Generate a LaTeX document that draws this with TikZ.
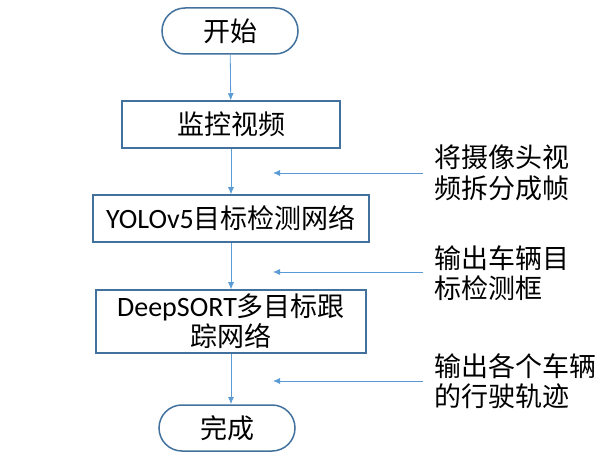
\documentclass[tikz,border=0pt]{standalone}
\usepackage{fontspec}
\setmainfont{Carlito}
\newfontfamily\cjk{Noto Sans CJK SC}
\usetikzlibrary{arrows.meta}
\definecolor{boxblue}{HTML}{41719C}
\definecolor{arrblue}{HTML}{5B9BD5}
\tikzset{
  term/.style={draw=boxblue, line width=1.5pt, rounded corners=23pt, minimum width=136pt, minimum height=46pt, inner sep=0pt, font=\fontsize{27}{30}\selectfont\cjk},
  proc/.style={draw=boxblue, line width=1.5pt, inner sep=0pt, align=center, font=\fontsize{27}{30}\selectfont},
  flow/.style={draw=arrblue, line width=0.8pt, -{Latex[length=7pt,width=6pt]}},
  note/.style={anchor=west, align=left, inner sep=0pt, font=\fontsize{27}{30.5}\selectfont\cjk},
}
\begin{document}
\begin{tikzpicture}[x=1pt,y=-1pt]
\useasboundingbox (0,0) rectangle (605,462);
\node[term] (start) at (230,31) {开始};
\node[proc, minimum width=218pt, minimum height=47pt] (video) at (231,124.5) {\cjk 监控视频};
\node[proc, minimum width=276pt, minimum height=47pt] (yolo) at (231,218.5) {{\fontsize{28}{30}\selectfont YOLOv5}{\cjk 目标检测网络}};
\node[proc, minimum width=270pt, minimum height=63pt] (deep) at (231,321.5) {{\fontsize{28}{30}\selectfont DeepSORT}{\cjk 多目标跟}\\{\cjk 踪网络}};
\node[term] (end) at (227,428) {完成};

\draw[flow] (start) -- (video);
\draw[flow] (video) -- (yolo);
\draw[flow] (yolo) -- (deep);
\draw[flow] (deep.south -| 231,0) -- (231,404);

\node[note] (n1) at (434,173) {将摄像头视\\频拆分成帧};
\node[note] (n2) at (434,273) {输出车辆目\\标检测框};
\node[note] (n3) at (434,381) {输出各个车辆\\的行驶轨迹};

\coordinate (a1) at (423,173);
\coordinate (b1) at (273,173);
\coordinate (a2) at (423,272);
\coordinate (b2) at (273,272);
\coordinate (a3) at (423,381);
\coordinate (b3) at (273,381);
\draw[flow] (a1) -- (b1);
\draw[flow] (a2) -- (b2);
\draw[flow] (a3) -- (b3);
\end{tikzpicture}
\end{document}
